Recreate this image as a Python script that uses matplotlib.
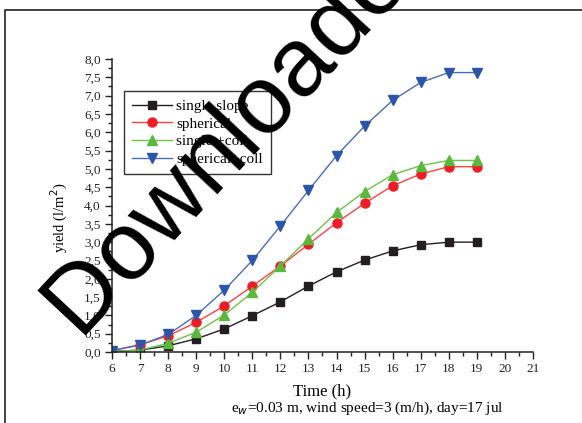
import matplotlib
matplotlib.use("Agg")
import matplotlib.pyplot as plt
from matplotlib.ticker import MultipleLocator, FuncFormatter
from matplotlib.patches import Rectangle

hours = [6, 7, 8, 9, 10, 11, 12, 13, 14, 15, 16, 17, 18, 19]
single_slope = [0.02, 0.05, 0.17, 0.36, 0.63, 0.99, 1.37, 1.80, 2.19, 2.51, 2.76, 2.93, 3.00, 3.00]
spherical = [0.04, 0.20, 0.44, 0.81, 1.26, 1.80, 2.35, 2.94, 3.53, 4.06, 4.54, 4.86, 5.06, 5.06]
single_coll = [0.02, 0.05, 0.24, 0.54, 1.01, 1.63, 2.35, 3.09, 3.81, 4.38, 4.84, 5.09, 5.23, 5.23]
spherical_coll = [0.04, 0.19, 0.48, 1.00, 1.69, 2.50, 3.44, 4.41, 5.36, 6.17, 6.87, 7.36, 7.63, 7.63]

plt.rcParams['font.family'] = ['Liberation Serif', 'DejaVu Serif']

fig = plt.figure(figsize=(5.82, 4.23), dpi=100)
ax = fig.add_axes([0.1924, 0.1678, 0.7234, 0.6927])

series = [
    (single_slope, "single slope", "#231f20", "#231f20", "s", 6),
    (spherical, "spherical", "#ff4040", "#ee1c25", "o", 6.5),
    (single_coll, "single +coll", "#6cc24a", "#5cb83c", "^", 7),
    (spherical_coll, "spherical+coll", "#4a6db5", "#2b55a8", "v", 7),
]
for vals, lab, lc, mc, m, size in series:
    ax.plot(hours, vals, color=lc, lw=1.0, marker=m, ms=size,
            markerfacecolor=mc, markeredgecolor=mc, label=lab)

ax.set_xlim(6, 21)
ax.set_ylim(0, 8)
ax.xaxis.set_major_locator(MultipleLocator(1))
ax.xaxis.set_minor_locator(MultipleLocator(0.5))
ax.yaxis.set_major_locator(MultipleLocator(0.5))
ax.yaxis.set_minor_locator(MultipleLocator(0.25))
ax.yaxis.set_major_formatter(FuncFormatter(lambda v, p: f"{v:.1f}".replace(".", ",")))
ax.tick_params(which='major', direction='out', length=5, width=1, labelsize=9.5,
               colors='#222222', pad=3)
ax.tick_params(which='minor', direction='out', length=3, width=1, colors='#222222')
for s in ['top', 'right']:
    ax.spines[s].set_visible(False)
for s in ['left', 'bottom']:
    ax.spines[s].set_linewidth(1.1)
    ax.spines[s].set_color('#222222')

ax.set_xlabel("Time (h)", fontsize=12, labelpad=6)
ax.set_ylabel("yield (l/m$^2$)", fontsize=10.5)
ax.yaxis.set_label_coords(-0.1, 0.46)
fig.text(0.632, 0.035, "e$_w$=0.03 m, wind speed=3 (m/h), day=17 jul",
         ha='center', va='center', fontsize=11)

leg = ax.legend(loc='upper left', bbox_to_anchor=(0.0285, 0.891), fontsize=11,
                frameon=True, fancybox=False, borderpad=0.55, handlelength=2.6,
                handletextpad=0.25, labelspacing=0.26, borderaxespad=0)
leg.get_frame().set_edgecolor('black')
leg.get_frame().set_linewidth(1.0)

# outer frame
fig.patches.append(Rectangle((5 / 582, -0.1), 1.2, 1.1 - 10 / 423,
                             transform=fig.transFigure, fill=False,
                             edgecolor='#222222', lw=1.2))

# watermark
fig.text(0.1349, 0.2078, "Downloaded", rotation=47, rotation_mode='anchor',
         ha='left', va='baseline', fontsize=70,
         family=['Liberation Sans', 'DejaVu Sans'], color='black')

fig.savefig("out.png", dpi=100)
